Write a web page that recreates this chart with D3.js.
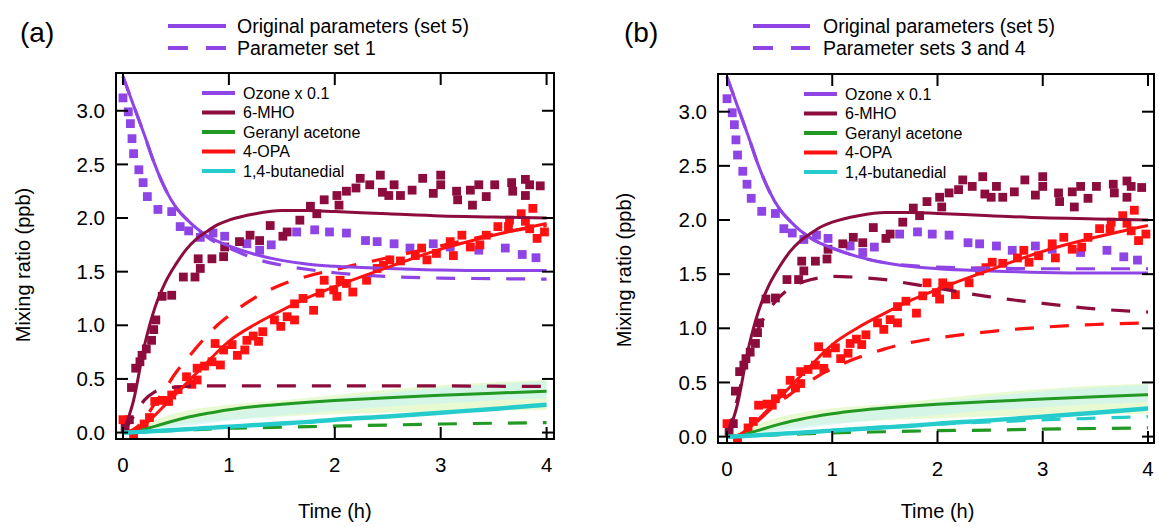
<!DOCTYPE html>
<html>
<head>
<meta charset="utf-8">
<script src="https://cdn.jsdelivr.net/npm/d3@7"></script>
<style>
  body { margin: 0; background: #fff; }
  svg { font-family: "Liberation Sans", Arial, sans-serif; }
</style>
</head>
<body>
<svg id="chart" width="1159" height="527"></svg>
<script>
// ---- data ----
const xTicks = [0, 1, 2, 3, 4]
const yTicks = [0, 0.5, 1, 1.5, 2, 2.5, 3]
const speciesNames = ["Ozone x 0.1", "6-MHO", "Geranyl acetone", "4-OPA", "1,4-butanedial"]

// measured points [time h, ppb] (same experiment in both panels)
const ozoneObs = [[0,3.12],[0.05,2.99],[0.07,2.88],[0.085,2.74],[0.1,2.6],[0.15,2.45],[0.19,2.33],[0.23,2.2],
  [0.33,2.08],[0.46,2.06],[0.54,1.92],[0.62,1.88],[0.73,1.82],[0.85,1.86],[0.96,1.83],[1.17,1.76],[1.29,1.7],
  [1.4,1.75],[1.64,1.87],[1.81,1.89],[1.95,1.87],[2.11,1.86],[2.29,1.79],[2.4,1.78],[2.56,1.76],[2.71,1.72],
  [2.93,1.76],[3.09,1.73],[3.36,1.7],[3.61,1.72],[3.77,1.66],[3.9,1.63]]
const mhoObs = [[0.02,0.05],[0.06,0.12],[0.08,0.42],[0.12,0.6],[0.16,0.66],[0.18,0.72],[0.22,0.78],[0.27,0.86],
  [0.29,0.96],[0.31,1.05],[0.37,1.27],[0.46,1.28],[0.57,1.45],[0.68,1.45],[0.73,1.53],[0.71,1.62],[0.84,1.62],
  [0.95,1.64],[0.96,1.73],[1.1,1.78],[1.2,1.84],[1.29,1.79],[1.39,1.93],[1.51,1.83],[1.55,1.87],[1.67,1.98],
  [1.77,2.11],[1.83,2.04],[1.9,2.17],[2.02,2.21],[2.04,2.12],[2.11,2.25],[2.2,2.28],[2.24,2.37],[2.33,2.31],
  [2.43,2.4],[2.45,2.24],[2.51,2.21],[2.56,2.31],[2.62,2.21],[2.73,2.26],[2.83,2.37],[2.93,2.23],[3.0,2.4],
  [3.0,2.31],[3.15,2.25],[3.16,2.17],[3.28,2.26],[3.3,2.12],[3.36,2.31],[3.43,2.2],[3.51,2.31],[3.67,2.33],
  [3.68,2.25],[3.8,2.36],[3.8,2.21],[3.84,2.31],[3.94,2.3]]
const opaObs = [[0.0,0.12],[0.1,-0.02],[0.2,0.08],[0.25,0.14],[0.3,0.29],[0.38,0.3],[0.43,0.29],[0.46,0.35],
  [0.52,0.4],[0.6,0.52],[0.65,0.45],[0.7,0.49],[0.7,0.6],[0.77,0.62],[0.84,0.66],[0.87,0.83],[0.92,0.63],
  [0.95,0.77],[1.03,0.82],[1.08,0.72],[1.15,0.77],[1.17,0.86],[1.23,0.9],[1.28,0.85],[1.32,0.94],[1.43,1.05],
  [1.49,0.99],[1.55,1.08],[1.62,1.05],[1.62,1.2],[1.7,1.25],[1.8,1.14],[1.86,1.3],[1.9,1.42],[1.99,1.33],
  [2.02,1.27],[2.05,1.42],[2.11,1.39],[2.17,1.31],[2.3,1.42],[2.4,1.53],[2.46,1.56],[2.52,1.61],[2.62,1.6],
  [2.76,1.65],[2.82,1.72],[2.87,1.61],[2.96,1.67],[3.09,1.78],[3.12,1.65],[3.2,1.84],[3.28,1.73],[3.37,1.75],
  [3.43,1.84],[3.54,1.92],[3.64,1.92],[3.65,1.98],[3.76,2.04],[3.8,1.97],[3.84,1.9],[3.87,2.09],[3.91,1.81],
  [3.98,1.87]]

// model curves on a common time grid
const modelTimes = [0, 0.1, 0.2, 0.3, 0.4, 0.5, 0.6, 0.7, 0.8, 0.9, 1, 1.25, 1.5, 1.75, 2, 2.5, 3, 3.5, 4]
// original parameters (set 5)
const ozoneModel      = [3.32, 3.05, 2.78, 2.5, 2.27, 2.1, 1.99, 1.9, 1.83, 1.78, 1.74, 1.66, 1.605, 1.57, 1.55, 1.53, 1.515, 1.51, 1.51]
const mhoModel        = [0, 0.3, 0.8, 1.16, 1.4, 1.57, 1.71, 1.81, 1.88, 1.94, 1.98, 2.04, 2.07, 2.07, 2.06, 2.04, 2.02, 2.01, 2.0]
const geranylModel    = [0, 0.008, 0.03, 0.058, 0.087, 0.115, 0.14, 0.161, 0.18, 0.197, 0.212, 0.242, 0.264, 0.282, 0.298, 0.325, 0.347, 0.367, 0.386]
const opaModel        = [0, 0.01, 0.07, 0.16, 0.26, 0.36, 0.46, 0.56, 0.66, 0.76, 0.85, 1.01, 1.14, 1.26, 1.36, 1.54, 1.71, 1.84, 1.95]
const butanedialModel = [0, 0.003, 0.008, 0.013, 0.019, 0.025, 0.031, 0.037, 0.043, 0.049, 0.055, 0.07, 0.085, 0.1, 0.12, 0.15, 0.185, 0.22, 0.26]
// parameter set 1
const ozoneSet1   = [3.32, 3.05, 2.78, 2.5, 2.27, 2.1, 1.99, 1.9, 1.82, 1.76, 1.72, 1.62, 1.56, 1.52, 1.49, 1.455, 1.44, 1.435, 1.43]
const mhoSet1     = [0, 0.15, 0.3, 0.38, 0.41, 0.425, 0.43, 0.435, 0.435, 0.435, 0.435, 0.435, 0.435, 0.435, 0.435, 0.435, 0.435, 0.432, 0.43]
const geranylSet1 = [0, 0.003, 0.007, 0.01, 0.015, 0.02, 0.024, 0.028, 0.032, 0.036, 0.04, 0.045, 0.05, 0.055, 0.06, 0.07, 0.08, 0.087, 0.093]
const opaSet1     = [0, 0.03, 0.12, 0.27, 0.41, 0.56, 0.68, 0.8, 0.91, 1.01, 1.09, 1.26, 1.38, 1.46, 1.52, 1.63, 1.74, 1.85, 1.93]
// parameter sets 3 and 4
const ozoneSet34      = [3.32, 3.05, 2.78, 2.5, 2.27, 2.1, 1.99, 1.9, 1.83, 1.78, 1.74, 1.66, 1.605, 1.578, 1.565, 1.555, 1.55, 1.55, 1.55]
const mhoSet34        = [0, 0.35, 0.75, 1.0, 1.17, 1.29, 1.37, 1.42, 1.45, 1.47, 1.48, 1.47, 1.45, 1.41, 1.37, 1.29, 1.23, 1.18, 1.15]
const geranylSet34    = [0, 0.003, 0.006, 0.009, 0.013, 0.017, 0.021, 0.025, 0.028, 0.032, 0.035, 0.04, 0.045, 0.05, 0.055, 0.06, 0.07, 0.075, 0.08]
const opaSet34        = [0, 0.01, 0.07, 0.15, 0.24, 0.32, 0.39, 0.46, 0.52, 0.58, 0.63, 0.73, 0.81, 0.87, 0.91, 0.97, 1.01, 1.035, 1.05]
const butanedialSet34 = [0, 0.003, 0.008, 0.013, 0.019, 0.025, 0.031, 0.037, 0.043, 0.05, 0.058, 0.075, 0.09, 0.103, 0.115, 0.135, 0.155, 0.17, 0.185]

// shaded uncertainty ranges
const bandTimes = [0, 0.25, 0.5, 0.75, 1, 1.5, 2, 2.5, 3, 3.5, 4]
const geranylBandLow  = [0, 0.03, 0.07, 0.1, 0.12, 0.15, 0.17, 0.185, 0.195, 0.205, 0.21]
const geranylBandHigh = [0, 0.1, 0.18, 0.23, 0.26, 0.3, 0.35, 0.4, 0.44, 0.47, 0.49]
const butanedialBandLow  = [0, 0.02, 0.05, 0.08, 0.11, 0.16, 0.2, 0.24, 0.27, 0.3, 0.32]
const butanedialBandHigh = [0, 0.05, 0.1, 0.15, 0.19, 0.26, 0.32, 0.37, 0.42, 0.45, 0.48]

const colors = ["#8f45e6", "#8c0c3e", "#229922", "#ff1111", "#26cccc"]

const panels = [
    {
        tag: "(a)", tagX: 20, box: {l: 116, r: 554, t: 73, b: 439},
        xDomain: [-0.066, 4.07], yDomain: [-0.06, 3.352],
        legendLine: [168, 226], legendTextX: 237, dashLabel: "Parameter set 1",
        yTitleX: 30, yTitleY: 265,
        dashed: [ozoneSet1, mhoSet1, geranylSet1, opaSet1, null]
    },
    {
        tag: "(b)", tagX: 624, box: {l: 718, r: 1154, t: 74, b: 443},
        xDomain: [-0.0855, 4.057], yDomain: [-0.059, 3.348],
        legendLine: [753, 810], legendTextX: 823, dashLabel: "Parameter sets 3 and 4",
        yTitleX: 631, yTitleY: 270,
        dashed: [ozoneSet34, mhoSet34, geranylSet34, opaSet34, butanedialSet34]
    }
]

const solid = [ozoneModel, mhoModel, geranylModel, opaModel, butanedialModel]
const obs = [ozoneObs, mhoObs, null, opaObs, null]

const svg = d3.select("#chart")

function drawPanel (p) {
    const x = d3.scaleLinear().domain(p.xDomain).range([p.box.l, p.box.r])
    const y = d3.scaleLinear().domain(p.yDomain).range([p.box.b, p.box.t])
    const g = svg.append("g")

    // bands
    const area = (lo, hi) => d3.area().curve(d3.curveMonotoneX)
        .x((d, i) => x(bandTimes[i])).y0((d, i) => y(lo[i])).y1((d, i) => y(hi[i]))(bandTimes)
    g.append("path").attr("d", area(geranylBandLow, geranylBandHigh))
        .attr("fill", "#e2f8c4").attr("fill-opacity", 0.75)
    g.append("path").attr("d", area(butanedialBandLow, butanedialBandHigh))
        .attr("fill", "#c8f4f4").attr("fill-opacity", 0.6)

    // observations
    obs.forEach((pts, k) => {
        if (!pts) return
        g.append("g").selectAll("rect").data(pts).join("rect")
            .attr("x", d => x(d[0]) - 4.4).attr("y", d => y(d[1]) - 4.4)
            .attr("width", 8.8).attr("height", 8.8)
            .attr("fill", colors[k])
    })

    const line = vals => d3.line().curve(d3.curveMonotoneX)
        .x((d, i) => x(modelTimes[i])).y(d => y(d))(vals)

    // dashed (alternative parameters)
    p.dashed.forEach((vals, k) => {
        if (!vals) return
        g.append("path").attr("d", line(vals)).attr("fill", "none")
            .attr("stroke", colors[k]).attr("stroke-width", 3.2)
            .attr("stroke-dasharray", "19,16")
    })
    // solid (original parameters)
    solid.forEach((vals, k) => {
        g.append("path").attr("d", line(vals)).attr("fill", "none")
            .attr("stroke", colors[k]).attr("stroke-width", k === 4 ? 4.4 : 3)
    })

    // frame and mirrored inside ticks
    const ax = g.append("g").attr("stroke", "#000").attr("stroke-width", 2)
    ax.append("rect").attr("x", p.box.l).attr("y", p.box.t)
        .attr("width", p.box.r - p.box.l).attr("height", p.box.b - p.box.t).attr("fill", "none")
    const tl = 12
    xTicks.forEach(t => {
        ax.append("line").attr("x1", x(t)).attr("x2", x(t)).attr("y1", p.box.b).attr("y2", p.box.b - tl)
        ax.append("line").attr("x1", x(t)).attr("x2", x(t)).attr("y1", p.box.t).attr("y2", p.box.t + tl)
    })
    yTicks.forEach(v => {
        ax.append("line").attr("y1", y(v)).attr("y2", y(v)).attr("x1", p.box.l).attr("x2", p.box.l + tl)
        ax.append("line").attr("y1", y(v)).attr("y2", y(v)).attr("x1", p.box.r).attr("x2", p.box.r - tl)
    })

    // tick labels
    g.append("g").selectAll("text").data(xTicks).join("text")
        .attr("x", d => x(d)).attr("y", p.box.b + 33).attr("text-anchor", "middle")
        .attr("font-size", 20.5).text(d => d)
    g.append("g").selectAll("text").data(yTicks).join("text")
        .attr("x", p.box.l - 11).attr("y", d => y(d)).attr("dy", "0.35em").attr("text-anchor", "end")
        .attr("font-size", 20.5).text(d3.format(".1f"))

    // titles
    g.append("text").attr("transform", `translate(${p.yTitleX},${p.yTitleY}) rotate(-90)`)
        .attr("text-anchor", "middle").attr("font-size", 20).text("Mixing ratio (ppb)")
    g.append("text").attr("x", (x(0) + x(4)) / 2).attr("y", 518)
        .attr("text-anchor", "middle").attr("font-size", 20).text("Time (h)")
    g.append("text").attr("x", p.tagX).attr("y", 42).attr("font-size", 28).text(p.tag)

    // top legend (line styles)
    const lg = g.append("g")
    ;[["Original parameters (set 5)", null, 26], [p.dashLabel, "20,18", 48]].forEach(([label, dash, ly]) => {
        lg.append("line").attr("x1", p.legendLine[0]).attr("x2", p.legendLine[1])
            .attr("y1", ly).attr("y2", ly).attr("stroke", colors[0]).attr("stroke-width", 4)
            .attr("stroke-dasharray", dash)
        lg.append("text").attr("x", p.legendTextX).attr("y", ly).attr("dy", "0.35em")
            .attr("font-size", 19.5).text(label)
    })

    // species legend inside the frame
    speciesNames.forEach((name, k) => {
        const ly = p.box.t + 20 + k * 19.5
        g.append("line").attr("x1", p.box.l + 86).attr("x2", p.box.l + 119)
            .attr("y1", ly).attr("y2", ly).attr("stroke", colors[k]).attr("stroke-width", 4)
        g.append("text").attr("x", p.box.l + 127).attr("y", ly).attr("dy", "0.35em")
            .attr("font-size", 16).text(name)
    })
}

panels.forEach(drawPanel)
</script>
</body>
</html>
